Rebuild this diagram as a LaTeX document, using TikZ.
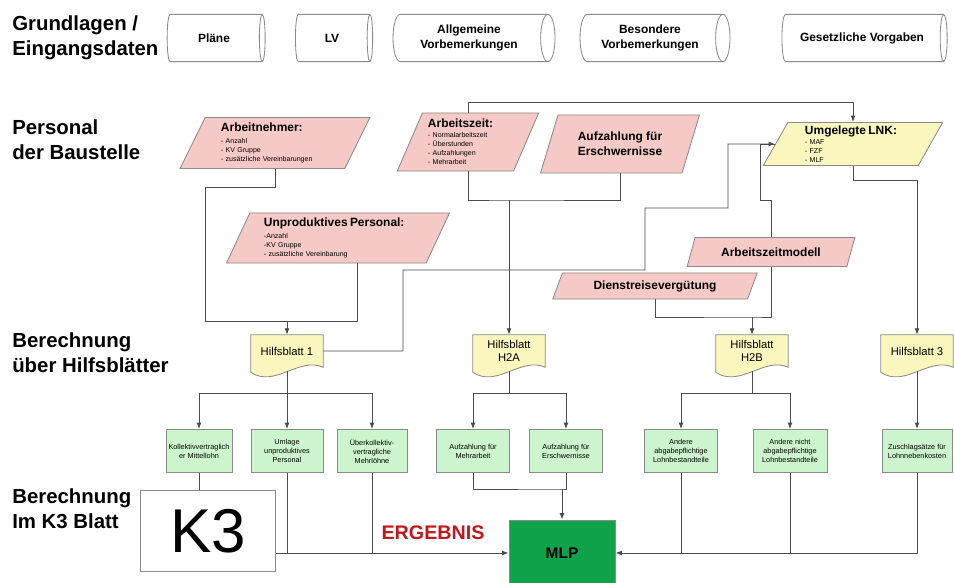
\documentclass[tikz,border=0pt]{standalone}
\usepackage{fontspec}
\setmainfont{Liberation Sans}
\usetikzlibrary{shapes.geometric,arrows.meta,positioning,calc,backgrounds}
\definecolor{rosa}{HTML}{F5C9C6}
\definecolor{gelb}{HTML}{FAF6BE}
\definecolor{hellgruen}{HTML}{CDF5CD}
\definecolor{mlpgruen}{HTML}{10A24B}
\definecolor{ergebnisrot}{HTML}{C0161C}
\definecolor{linie}{HTML}{4A4A4A}
\definecolor{rand}{HTML}{8A8A8A}
\newcommand{\ptitel}{\bfseries\fontsize{8.5}{10}\selectfont}
\newcommand{\blattform}[1]{%
  \begin{scope}[on background layer]
    \draw[draw=rand, fill=gelb, line width=0.6pt] (#1.north west) -- (#1.north east) -- (#1.south east)
      .. controls +(-24,-11) and +(24,16) .. ($(#1.south west)+(0,5)$) -- cycle;
  \end{scope}}

\begin{document}
\begin{tikzpicture}[
    x=0.025cm, y=-0.025cm,
    lbl/.style={anchor=west, align=left, font=\bfseries\fontsize{14.5}{17.5}\selectfont, inner sep=0pt},
    tonne/.style={cylinder, draw=rand, fill=white, line width=0.6pt, aspect=0.5, minimum width=1.18cm, align=center, font=\bfseries\fontsize{8.5}{10.5}\selectfont, inner sep=1pt},
    para/.style={trapezium, trapezium left angle=65, trapezium right angle=115, trapezium stretches=true, draw=rand, fill=rosa, line width=0.6pt, align=left, font=\fontsize{5}{6.4}\selectfont, inner sep=1pt},
    paramitte/.style={para, align=center, font=\bfseries\fontsize{8.5}{10.5}\selectfont},
    hb/.style={rectangle, minimum width=1.8cm, minimum height=0.8cm, align=center, font=\fontsize{8}{9.5}\selectfont, inner sep=1pt},
    gk/.style={rectangle, draw=rand, fill=hellgruen, line width=0.6pt, minimum height=1.075cm, align=center, font=\fontsize{5.2}{6.4}\selectfont, inner sep=1pt},
    verb/.style={draw=linie, line width=0.6pt},
    pfeil/.style={verb, -{Latex[length=1.6mm,width=1.2mm]}}
]
\useasboundingbox (0,0) rectangle (954,583);

\node[lbl] (grund) at (12,38) {Grundlagen /\\Eingangsdaten};
\node[lbl] (pers) at (12,140) {Personal\\der Baustelle};
\node[lbl] (hilf) at (12,353) {Berechnung\\über Hilfsblätter};
\node[lbl] (kblatt) at (12,509) {Berechnung\\Im K3 Blatt};

\node[tonne, minimum height=2.45cm] (plaene) at (214,38) {Pläne};
\node[tonne, minimum height=1.93cm] (lv) at (332,38) {LV};
\node[tonne, minimum height=4.05cm] (allg) at (469,38) {Allgemeine\\Vorbemerkungen};
\node[tonne, minimum height=3.75cm] (bes) at (650,38) {Besondere\\Vorbemerkungen};
\node[tonne, minimum height=4.13cm] (gesetz) at (862,38) {Gesetzliche Vorgaben};

\node[para, minimum width=4.75cm, minimum height=1.275cm, text width=2.7cm] (arbn) at (275,143)
  {{\ptitel Arbeitnehmer:}\\[2pt]- Anzahl\\- KV Gruppe\\- zusätzliche Vereinbarungen};
\node[para, minimum width=3.55cm, minimum height=1.45cm, text width=2.0cm] (azeit) at (468,142)
  {{\ptitel Arbeitszeit:}\\[1pt]- Normalarbeitszeit\\- Überstunden\\- Aufzahlungen\\- Mehrarbeit};
\node[paramitte, minimum width=4.0cm, minimum height=1.45cm] (aufz) at (620,144) {Aufzahlung für\\Erschwernisse};
\node[para, fill=gelb, minimum width=4.5cm, minimum height=1.075cm, text width=2.4cm] (lnk) at (853,144)
  {{\ptitel Umgelegte LNK:}\\[1pt]- MAF\\- FZF\\- MLF};
\node[para, minimum width=5.575cm, minimum height=1.25cm, text width=3.7cm] (unprod) at (338,238)
  {{\ptitel Unproduktives Personal:}\\[2pt]-Anzahl\\-KV Gruppe\\- zusätzliche Vereinbarung};
\node[paramitte, minimum width=4.2cm, minimum height=0.725cm] (azmod) at (771,252) {Arbeitszeitmodell};
\node[paramitte, minimum width=5.125cm, minimum height=0.65cm] (dreise) at (655,286) {Dienstreisevergütung};

\node[hb] (h1) at (287,351) {Hilfsblatt 1};
\node[hb] (h2a) at (509,351) {Hilfsblatt\\H2A};
\node[hb] (h2b) at (752,351) {Hilfsblatt\\H2B};
\node[hb] (h3) at (917,351) {Hilfsblatt 3};
\blattform{h1}
\blattform{h2a}
\blattform{h2b}
\blattform{h3}

\node[gk, minimum width=1.65cm] (kvml) at (199,451) {Kollektivvertraglich\\er Mittellohn};
\node[gk, minimum width=1.8cm] (umlage) at (287,451) {Umlage\\unproduktives\\Personal};
\node[gk, minimum width=1.75cm] (ueber) at (372,451) {Überkollektiv-\\vertragliche\\Mehrlöhne};
\node[gk, minimum width=1.825cm] (azmehr) at (473,451) {Aufzahlung für\\Mehrarbeit};
\node[gk, minimum width=1.825cm] (azersch) at (566,451) {Aufzahlung für\\Erschwernisse};
\node[gk, minimum width=1.825cm] (andab) at (681,451) {Andere\\abgabepflichtige\\Lohnbestandteile};
\node[gk, minimum width=1.85cm] (andnicht) at (790,451) {Andere nicht\\abgabepflichtige\\Lohnbestandteile};
\node[gk, minimum width=1.75cm] (zuschl) at (917,451) {Zuschlagsätze für\\Lohnnebenkosten};

\node[rectangle, draw=rand, fill=white, line width=0.6pt, minimum width=3.375cm, minimum height=2.025cm, font=\fontsize{44}{44}\selectfont] (kdrei) at (208,531) {K3};
\node[rectangle, draw=rand, fill=mlpgruen, line width=0.6pt, minimum width=2.65cm, minimum height=1.65cm, font=\bfseries\fontsize{11}{13}\selectfont] (mlp) at (562,553) {MLP};
\node[text=ergebnisrot, font=\bfseries\fontsize{14}{16}\selectfont] (erg) at (433,533) {ERGEBNIS};

\coordinate (b1) at (403,270);
\coordinate (b2) at (645,208);
\coordinate (b3) at (728,144);
\coordinate (j2) at (760,200);
\coordinate (j3) at (509,200);
\coordinate (j4) at (752,317);
\coordinate (j5) at (562,489);

\draw[pfeil] (azeit.north) -- ++(0,-10) -| (lnk.north);
\draw[pfeil] (arbn.south) -- ++(0,18) -| ($(h1.north)+(-82,-13)$) -| (h1.north);
\draw[verb] ($(unprod.south)+(19,0)$) |- ($(h1.north)+(0,-13)$);
\draw[pfeil] (h1.east) -| (b1) -| (b2) -| (b3) -- (lnk.west);
\draw[verb] (azmod.north) |- (j2) |- (lnk.west);
\draw[verb] (azeit.south) |- (j3) -| (aufz.south);
\draw[pfeil] (j3) -- (h2a.north);
\draw[verb] (dreise.south) |- (j4) -| (azmod.south);
\draw[pfeil] (j4) -- (h2b.north);
\draw[pfeil] (lnk.south) -- ++(0,14) -| (h3.north);

\draw[pfeil] ($(h1.south)+(0,4)$) -- ++(0,22) -| (kvml.north);
\draw[pfeil] ($(h1.south)+(0,4)$) -- ++(0,22) -| (ueber.north);
\draw[pfeil] ($(h1.south)+(0,4)$) -- (umlage.north);
\draw[pfeil] ($(h2a.south)+(0,4)$) -- ++(0,22) -| (azmehr.north);
\draw[pfeil] ($(h2a.south)+(0,4)$) -- ++(0,22) -| (azersch.north);
\draw[pfeil] ($(h2b.south)+(0,4)$) -- ++(0,22) -| (andab.north);
\draw[pfeil] ($(h2b.south)+(0,4)$) -- ++(0,22) -| (andnicht.north);
\draw[pfeil] ($(h3.south)+(0,4)$) -- (zuschl.north);

\draw[verb] (kvml.south) -- (kvml.south |- kdrei.north);
\draw[pfeil] (kdrei.east |- mlp.west) -- (mlp.west);
\draw[verb] (umlage.south) -- (umlage.south |- mlp.west);
\draw[verb] (ueber.south) -- (ueber.south |- mlp.west);
\draw[verb] (azmehr.south) |- (j5) -| (azersch.south);
\draw[pfeil] (j5) -- (mlp.north);
\draw[pfeil] (zuschl.south) |- (mlp.east);
\draw[verb] (andab.south) -- (andab.south |- mlp.east);
\draw[verb] (andnicht.south) -- (andnicht.south |- mlp.east);
\end{tikzpicture}
\end{document}
